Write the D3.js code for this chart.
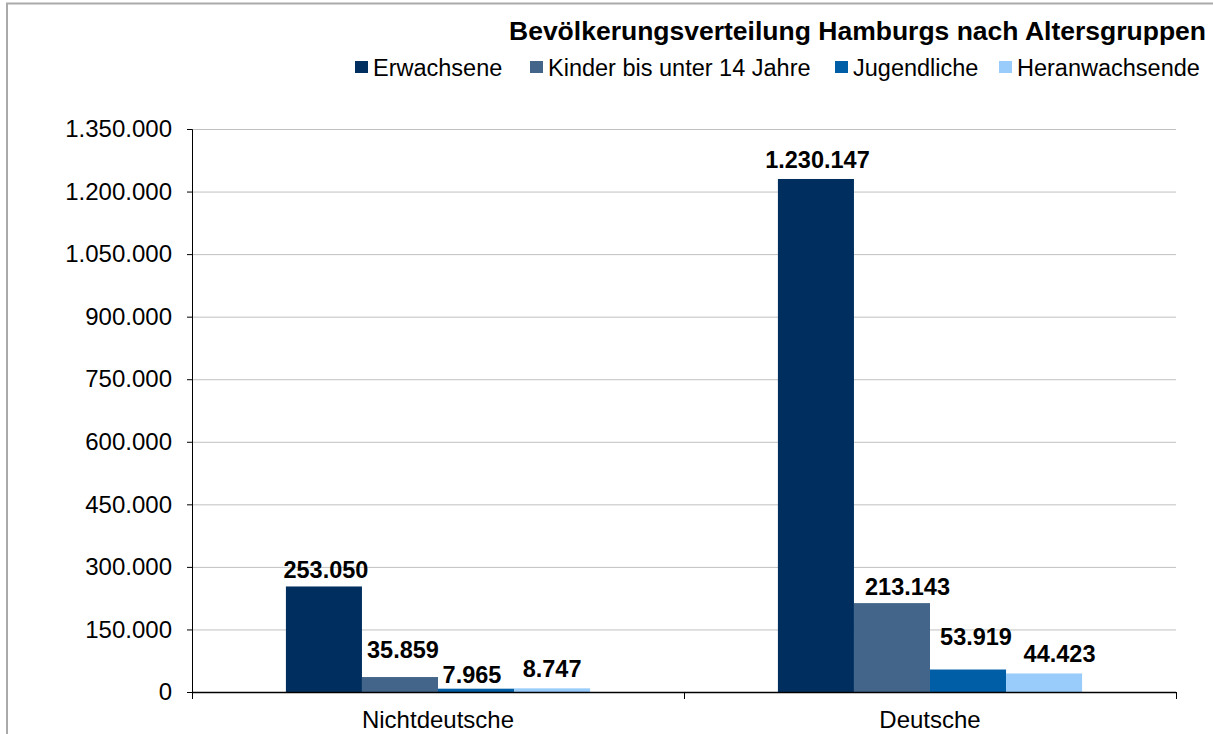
<!DOCTYPE html>
<html>
<head>
<meta charset="utf-8">
<script src="https://cdn.jsdelivr.net/npm/d3@7/dist/d3.min.js"></script>
<style>
  body { margin: 0; background: #fff; }
  text { font-family: "Liberation Sans", Arial, sans-serif; }
</style>
</head>
<body>
<div id="chart"></div>
<script>
// chart data
var categories = ["Nichtdeutsche", "Deutsche"];
var seriesNames = ["Erwachsene", "Kinder bis unter 14 Jahre", "Jugendliche", "Heranwachsende"];
var erwachsene = [253050, 1230147];
var kinder = [35859, 213143];
var jugendliche = [7965, 53919];
var heranwachsende = [8747, 44423];
var yTicks = [0, 150000, 300000, 450000, 600000, 750000, 900000, 1050000, 1200000, 1350000];
var colors = ["#002f5f", "#436589", "#005ea6", "#99cbfb"];

// label nudges (like the hand-moved labels in the original), per category then series
var labelDx = [[2, 3, -4, 0], [1.5, 15.5, 8, 15.5]];
var labelDy = [[-8.5, -19, -6, -11], [-11, -8.5, -24.5, -11]];

var svgWidth = 1213;
var svgHeight = 734;

var margin = { top: 129, right: 37, bottom: 42, left: 192 };
var chartWidth = svgWidth - margin.left - margin.right;
var chartHeight = svgHeight - margin.top - margin.bottom;

var fmt = d3.formatLocale({ decimal: ",", thousands: ".", grouping: [3], currency: ["", "€"] }).format(",d");

var svg = d3.select("#chart")
  .append("svg")
  .attr("width", svgWidth)
  .attr("height", svgHeight);

// outer frame
svg.append("rect")
  .attr("x", 7)
  .attr("y", 3.5)
  .attr("width", svgWidth + 10)
  .attr("height", svgHeight + 10)
  .attr("fill", "none")
  .attr("stroke", "#aaaaaa")
  .attr("stroke-width", 2);

// title
svg.append("text")
  .attr("x", 1206)
  .attr("y", 40)
  .attr("text-anchor", "end")
  .attr("font-size", 26.5)
  .attr("font-weight", "bold")
  .text("Bevölkerungsverteilung Hamburgs nach Altersgruppen");

// legend
var legendX = [355, 530, 835, 999];
var legend = svg.append("g");
seriesNames.forEach(function(name, i) {
  legend.append("rect")
    .attr("x", legendX[i])
    .attr("y", 61)
    .attr("width", 13)
    .attr("height", 12)
    .attr("fill", colors[i]);
  legend.append("text")
    .attr("x", legendX[i] + 18)
    .attr("y", 76)
    .attr("font-size", 23.5)
    .text(name);
});

var series = [erwachsene, kinder, jugendliche, heranwachsende];
var data = categories.map(function(c, ci) {
  return { cat: c, values: series.map(function(s, si) {
    return { key: seriesNames[si], idx: si, value: s[ci], dx: labelDx[ci][si], dy: labelDy[ci][si] };
  }) };
});

var xScale = d3.scaleBand()
  .domain(categories)
  .range([0, chartWidth]);

var xInner = d3.scaleBand()
  .domain(seriesNames)
  .range([0, xScale.bandwidth()])
  .paddingOuter(1.235);

var yScale = d3.scaleLinear()
  .domain([0, 1350000])
  .range([chartHeight, 0]);

var chartGroup = svg.append("g")
  .attr("transform", `translate(${margin.left}, ${margin.top})`);

// gridlines
chartGroup.append("g")
  .selectAll("line")
  .data(yTicks.slice(1))
  .enter()
  .append("line")
  .attr("x1", 0)
  .attr("x2", chartWidth)
  .attr("y1", d => yScale(d) + 0.5)
  .attr("y2", d => yScale(d) + 0.5)
  .attr("stroke", "#c0c0c0")
  .attr("stroke-width", 1);

// bars
var groups = chartGroup.selectAll("g.cat")
  .data(data)
  .enter()
  .append("g")
  .attr("class", "cat")
  .attr("transform", d => `translate(${xScale(d.cat)}, 0)`);

groups.selectAll("rect")
  .data(d => d.values)
  .enter()
  .append("rect")
  .attr("x", d => xInner(d.key))
  .attr("y", d => yScale(d.value))
  .attr("width", xInner.bandwidth())
  .attr("height", d => chartHeight - yScale(d.value))
  .attr("fill", d => colors[d.idx]);

groups.selectAll("text")
  .data(d => d.values)
  .enter()
  .append("text")
  .attr("x", d => xInner(d.key) + xInner.bandwidth() / 2 + d.dx)
  .attr("y", d => yScale(d.value) + d.dy)
  .attr("text-anchor", "middle")
  .attr("font-size", 23.5)
  .attr("font-weight", "bold")
  .text(d => fmt(d.value));

// y axis
var leftAxis = d3.axisLeft(yScale)
  .tickValues(yTicks)
  .tickSize(5)
  .tickPadding(15)
  .tickFormat(fmt);

var yAxisG = chartGroup.append("g")
  .call(leftAxis);
yAxisG.select(".domain").attr("stroke", "#000").attr("d", `M-5,0.5H0.5V${chartHeight}`);
yAxisG.selectAll("text").attr("font-size", 24).attr("fill", "#000").style("font-family", "Liberation Sans, Arial, sans-serif");

// x axis
var xAxisG = chartGroup.append("g")
  .attr("transform", `translate(0, ${chartHeight})`);
xAxisG.append("line")
  .attr("x1", 0)
  .attr("x2", chartWidth)
  .attr("y1", 0.5)
  .attr("y2", 0.5)
  .attr("stroke", "#000")
  .attr("stroke-width", 1.5);
xAxisG.selectAll("line.tick")
  .data([0].concat(categories.map(c => xScale(c) + xScale.bandwidth())))
  .enter()
  .append("line")
  .attr("class", "tick")
  .attr("x1", d => d + 0.5)
  .attr("x2", d => d + 0.5)
  .attr("y1", 0)
  .attr("y2", 7)
  .attr("stroke", "#000");
xAxisG.selectAll("text")
  .data(categories)
  .enter()
  .append("text")
  .attr("x", d => xScale(d) + xScale.bandwidth() / 2)
  .attr("y", 36)
  .attr("text-anchor", "middle")
  .attr("font-size", 24)
  .text(d => d);
</script>
</body>
</html>
